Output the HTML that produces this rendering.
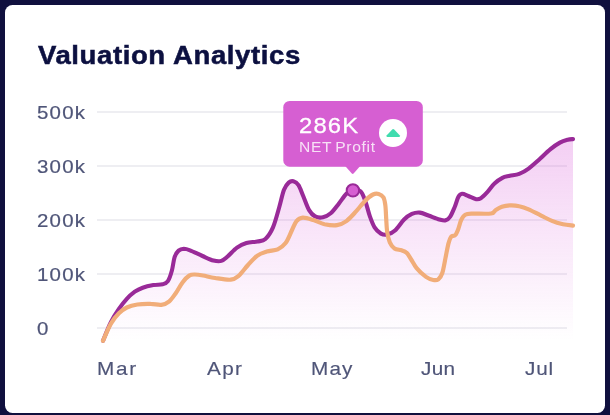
<!DOCTYPE html>
<html><head><meta charset="utf-8">
<style>
html,body{margin:0;padding:0;}
body{width:610px;height:415px;background:#10103e;overflow:hidden;position:relative;font-family:"Liberation Sans",sans-serif;}
.card{position:absolute;left:5px;top:5px;width:600px;height:407.5px;background:#fff;border-radius:7.5px;}
.title{position:absolute;left:37.7px;top:40px;font-size:25.5px;font-weight:bold;color:#0c1040;white-space:nowrap;line-height:30px;letter-spacing:0.55px;transform:scaleX(1.08);transform-origin:0 0;-webkit-text-stroke:0.5px #0c1040;will-change:transform;}
.yl{position:absolute;left:37.4px;font-size:18.6px;color:#4f5578;line-height:20px;letter-spacing:1.1px;white-space:nowrap;transform:scaleX(1.1);transform-origin:0 0;will-change:transform;-webkit-text-stroke:0.2px #4f5578;}
.xl{position:absolute;top:358.85px;font-size:18.5px;color:#4f5578;line-height:20px;letter-spacing:1.2px;white-space:nowrap;transform:scaleX(1.12);transform-origin:0 0;will-change:transform;-webkit-text-stroke:0.15px #4f5578;}
svg{position:absolute;left:0;top:0;}
.tt1{position:absolute;left:299.2px;top:113.6px;font-size:22px;color:#fff;line-height:24px;letter-spacing:1.1px;white-space:nowrap;transform:scaleX(1.08);transform-origin:0 0;will-change:transform;-webkit-text-stroke:0.3px #fff;}
.tt2{position:absolute;left:298.7px;top:138.8px;font-size:15px;color:#f7e0f6;line-height:16px;letter-spacing:0.65px;word-spacing:-1.6px;white-space:nowrap;transform:scaleX(1.04);transform-origin:0 0;will-change:transform;}
</style></head><body>
<div class="card"></div>
<div class="title">Valuation Analytics</div>
<svg width="610" height="415" viewBox="0 0 610 415">
<defs>
<linearGradient id="g" x1="0" y1="139" x2="0" y2="340" gradientUnits="userSpaceOnUse">
<stop offset="0" stop-color="#d95fd9" stop-opacity="0.30"/>
<stop offset="1" stop-color="#d95fd9" stop-opacity="0"/>
</linearGradient>
</defs>
<g stroke="#eeeef2" stroke-width="1.8">
<line x1="97" y1="112" x2="567" y2="112"/>
<line x1="97" y1="166" x2="567" y2="166"/>
<line x1="97" y1="220" x2="567" y2="220"/>
<line x1="97" y1="274" x2="567" y2="274"/>
<line x1="97" y1="328" x2="567" y2="328"/>
</g>
<path d="M103.0,340.8C104.3,337.7 108.2,327.5 110.9,322.2C113.6,316.9 116.2,312.9 118.9,309.0C121.6,305.1 124.1,301.8 126.8,298.9C129.4,296.0 132.2,293.6 134.8,291.7C137.5,289.8 139.6,288.8 142.7,287.7C145.8,286.6 150.1,285.7 153.4,285.1C156.7,284.5 160.2,285.0 162.6,284.3C165.0,283.6 166.3,283.4 167.9,281.1C169.5,278.8 170.8,274.5 171.9,270.5C173.0,266.5 173.5,260.5 174.6,257.2C175.7,253.9 177.0,252.0 178.6,250.6C180.2,249.2 182.0,248.9 183.9,248.8C185.8,248.8 186.9,249.1 190.0,250.3C193.1,251.5 198.6,254.3 202.5,256.0C206.4,257.7 210.4,259.7 213.5,260.5C216.6,261.3 219.0,261.6 221.3,260.9C223.7,260.2 225.0,258.7 227.6,256.5C230.2,254.3 233.9,249.9 237.0,247.7C240.1,245.4 243.0,244.0 246.4,243.0C249.8,242.0 254.2,242.2 257.4,241.5C260.6,240.8 262.8,241.3 265.4,239.0C268.0,236.7 270.7,232.7 273.0,227.4C275.3,222.1 277.5,213.3 279.3,207.0C281.1,200.7 282.4,193.9 284.0,189.8C285.6,185.7 287.1,184.0 288.7,182.6C290.3,181.2 291.8,180.9 293.4,181.3C295.0,181.7 296.9,182.7 298.5,185.1C300.1,187.5 301.4,191.8 303.2,196.0C305.0,200.2 307.1,206.7 309.1,210.1C311.1,213.5 312.8,215.2 315.1,216.4C317.4,217.6 320.3,217.8 322.9,217.3C325.5,216.8 328.1,215.5 330.7,213.3C333.3,211.1 336.0,207.2 338.6,203.9C341.2,200.7 344.0,196.2 346.4,193.8C348.8,191.5 350.3,190.2 352.7,189.8C355.1,189.4 358.4,189.5 360.5,191.3C362.6,193.1 363.6,196.5 365.2,200.7C366.8,204.9 368.3,211.9 369.9,216.4C371.5,220.9 372.8,224.5 374.6,227.4C376.4,230.3 378.8,232.4 380.9,233.6C383.0,234.8 384.8,235.1 387.1,234.6C389.5,234.1 392.2,233.0 395.0,230.5C397.8,228.0 401.3,222.3 404.1,219.5C406.9,216.7 409.3,215.1 411.9,213.9C414.5,212.8 416.9,212.3 419.8,212.6C422.7,212.9 425.9,214.7 429.2,215.8C432.5,217.0 436.7,218.8 439.4,219.5C442.1,220.2 443.8,220.8 445.6,220.3C447.4,219.8 448.7,218.8 450.2,216.6C451.7,214.4 453.3,210.3 454.7,207.0C456.1,203.7 457.1,199.2 458.3,197.0C459.5,194.8 460.4,194.0 462.1,193.8C463.8,193.6 466.0,195.1 468.3,196.0C470.6,196.9 474.1,198.8 476.2,199.2C478.3,199.6 479.1,199.3 480.9,198.2C482.7,197.1 484.8,194.8 487.1,192.4C489.4,190.0 491.9,185.9 494.5,183.5C497.1,181.1 499.8,179.1 502.4,177.8C504.9,176.5 507.0,176.5 509.8,175.8C512.6,175.2 516.1,175.1 519.2,173.9C522.3,172.7 525.2,171.1 528.6,168.6C532.0,166.1 535.9,162.4 539.5,159.2C543.1,155.9 547.1,151.9 550.5,149.1C553.9,146.3 557.0,144.2 559.9,142.6C562.8,141.0 565.5,140.3 567.7,139.7C569.9,139.1 572.1,139.2 573.0,139.1L573,342 L103,342 Z" fill="url(#g)"/>
<path d="M103.0,340.8C104.3,337.7 108.2,327.5 110.9,322.2C113.6,316.9 116.2,312.9 118.9,309.0C121.6,305.1 124.1,301.8 126.8,298.9C129.4,296.0 132.2,293.6 134.8,291.7C137.5,289.8 139.6,288.8 142.7,287.7C145.8,286.6 150.1,285.7 153.4,285.1C156.7,284.5 160.2,285.0 162.6,284.3C165.0,283.6 166.3,283.4 167.9,281.1C169.5,278.8 170.8,274.5 171.9,270.5C173.0,266.5 173.5,260.5 174.6,257.2C175.7,253.9 177.0,252.0 178.6,250.6C180.2,249.2 182.0,248.9 183.9,248.8C185.8,248.8 186.9,249.1 190.0,250.3C193.1,251.5 198.6,254.3 202.5,256.0C206.4,257.7 210.4,259.7 213.5,260.5C216.6,261.3 219.0,261.6 221.3,260.9C223.7,260.2 225.0,258.7 227.6,256.5C230.2,254.3 233.9,249.9 237.0,247.7C240.1,245.4 243.0,244.0 246.4,243.0C249.8,242.0 254.2,242.2 257.4,241.5C260.6,240.8 262.8,241.3 265.4,239.0C268.0,236.7 270.7,232.7 273.0,227.4C275.3,222.1 277.5,213.3 279.3,207.0C281.1,200.7 282.4,193.9 284.0,189.8C285.6,185.7 287.1,184.0 288.7,182.6C290.3,181.2 291.8,180.9 293.4,181.3C295.0,181.7 296.9,182.7 298.5,185.1C300.1,187.5 301.4,191.8 303.2,196.0C305.0,200.2 307.1,206.7 309.1,210.1C311.1,213.5 312.8,215.2 315.1,216.4C317.4,217.6 320.3,217.8 322.9,217.3C325.5,216.8 328.1,215.5 330.7,213.3C333.3,211.1 336.0,207.2 338.6,203.9C341.2,200.7 344.0,196.2 346.4,193.8C348.8,191.5 350.3,190.2 352.7,189.8C355.1,189.4 358.4,189.5 360.5,191.3C362.6,193.1 363.6,196.5 365.2,200.7C366.8,204.9 368.3,211.9 369.9,216.4C371.5,220.9 372.8,224.5 374.6,227.4C376.4,230.3 378.8,232.4 380.9,233.6C383.0,234.8 384.8,235.1 387.1,234.6C389.5,234.1 392.2,233.0 395.0,230.5C397.8,228.0 401.3,222.3 404.1,219.5C406.9,216.7 409.3,215.1 411.9,213.9C414.5,212.8 416.9,212.3 419.8,212.6C422.7,212.9 425.9,214.7 429.2,215.8C432.5,217.0 436.7,218.8 439.4,219.5C442.1,220.2 443.8,220.8 445.6,220.3C447.4,219.8 448.7,218.8 450.2,216.6C451.7,214.4 453.3,210.3 454.7,207.0C456.1,203.7 457.1,199.2 458.3,197.0C459.5,194.8 460.4,194.0 462.1,193.8C463.8,193.6 466.0,195.1 468.3,196.0C470.6,196.9 474.1,198.8 476.2,199.2C478.3,199.6 479.1,199.3 480.9,198.2C482.7,197.1 484.8,194.8 487.1,192.4C489.4,190.0 491.9,185.9 494.5,183.5C497.1,181.1 499.8,179.1 502.4,177.8C504.9,176.5 507.0,176.5 509.8,175.8C512.6,175.2 516.1,175.1 519.2,173.9C522.3,172.7 525.2,171.1 528.6,168.6C532.0,166.1 535.9,162.4 539.5,159.2C543.1,155.9 547.1,151.9 550.5,149.1C553.9,146.3 557.0,144.2 559.9,142.6C562.8,141.0 565.5,140.3 567.7,139.7C569.9,139.1 572.1,139.2 573.0,139.1" fill="none" stroke="#992a98" stroke-width="4.1" stroke-linecap="round" stroke-linejoin="round"/>
<path d="M103.0,340.8C104.3,337.9 108.2,328.2 110.9,323.6C113.6,319.0 116.2,316.0 118.9,313.3C121.6,310.6 123.7,309.0 126.8,307.5C129.9,306.0 133.4,305.1 137.4,304.5C141.4,303.9 146.7,303.8 150.7,303.9C154.7,303.9 158.2,305.2 161.3,304.8C164.4,304.4 166.9,303.3 169.3,301.3C171.7,299.3 173.7,296.1 175.9,293.0C178.1,289.9 180.3,285.3 182.5,282.4C184.7,279.5 187.1,276.9 189.2,275.6C191.3,274.3 192.7,274.5 195.0,274.5C197.3,274.5 199.7,274.9 203.0,275.5C206.3,276.1 210.5,277.3 215.1,278.0C219.7,278.7 226.8,280.1 230.7,279.7C234.6,279.3 235.7,278.3 238.6,275.9C241.5,273.4 244.9,268.4 248.0,265.0C251.1,261.6 254.3,257.9 257.4,255.6C260.5,253.3 263.4,252.6 266.8,251.5C270.2,250.4 274.6,250.7 277.7,249.3C280.8,247.9 283.2,246.1 285.6,243.0C288.0,239.9 290.0,234.2 291.8,230.5C293.6,226.8 294.7,223.2 296.5,221.1C298.3,219.0 300.0,217.9 302.8,217.7C305.6,217.5 309.9,219.0 313.5,220.1C317.1,221.2 320.6,223.3 324.5,224.2C328.4,225.0 333.4,225.7 337.0,225.2C340.6,224.7 343.3,223.3 346.4,221.1C349.5,218.8 352.7,215.1 355.8,211.7C358.9,208.3 362.3,203.6 365.2,200.7C368.1,197.8 370.8,195.6 373.0,194.5C375.2,193.4 376.9,193.4 378.6,193.9C380.3,194.4 382.3,195.5 383.4,197.3C384.5,199.2 384.8,201.5 385.3,205.0C385.8,208.5 385.9,214.0 386.2,218.5C386.5,223.0 386.6,228.0 387.2,232.0C387.8,236.0 388.6,239.6 389.8,242.3C391.0,245.0 392.6,247.1 394.5,248.4C396.4,249.7 399.5,249.6 401.5,250.3C403.5,251.0 404.9,251.2 406.5,252.7C408.1,254.1 409.2,256.4 410.9,259.0C412.6,261.6 414.1,265.1 416.6,268.1C419.1,271.1 423.2,274.9 426.0,276.9C428.8,278.9 431.2,279.6 433.3,280.0C435.4,280.4 436.8,280.5 438.3,279.3C439.8,278.1 441.1,276.6 442.3,273.0C443.5,269.4 444.6,262.3 445.6,257.4C446.6,252.5 447.6,246.8 448.5,243.4C449.4,240.0 450.0,238.2 451.1,236.8C452.2,235.4 454.0,236.5 455.2,235.2C456.4,233.9 457.3,231.5 458.3,228.9C459.3,226.3 460.2,221.8 461.4,219.5C462.5,217.2 463.5,215.8 465.2,214.8C466.9,213.8 467.2,213.8 471.5,213.6C475.8,213.4 487.0,214.1 491.0,213.5C495.0,212.9 493.9,211.1 495.7,210.0C497.5,208.9 499.5,207.6 501.9,206.8C504.2,206.0 506.9,205.5 509.8,205.4C512.7,205.3 516.1,205.5 519.2,206.2C522.3,206.8 525.0,207.7 528.6,209.3C532.2,210.9 537.2,213.7 541.1,215.6C545.0,217.5 548.4,219.4 552.0,220.9C555.6,222.4 559.5,223.5 563.0,224.3C566.5,225.1 571.3,225.4 573.0,225.6" fill="none" stroke="#f1ad79" stroke-width="4.2" stroke-linecap="round" stroke-linejoin="round"/>
<circle cx="352.9" cy="190.4" r="6.2" fill="#d65fd2" stroke="#992a98" stroke-width="2"/>
<rect x="283.3" y="101" width="139.5" height="65.7" rx="6.3" fill="#d65fd2"/>
<path d="M345.2,166 L360.2,166 L353.6,173.6 Q352.7,174.5 351.8,173.6 Z" fill="#d65fd2"/>
<circle cx="393" cy="133" r="14" fill="#fff"/>
<path d="M387.3,137 L399.1,137 Q400.6,136.6 399.6,135.2 L394.2,129.4 Q393.2,128.5 392.2,129.4 L386.8,135.2 Q385.8,136.6 387.3,137 Z" fill="#40dcae"/>
</svg>
<div class="yl" style="top:102.90px">500k</div>
<div class="yl" style="top:156.90px">300k</div>
<div class="yl" style="top:210.90px">200k</div>
<div class="yl" style="top:264.90px">100k</div>
<div class="yl" style="top:318.90px">0</div>
<div class="xl" style="left:96.5px;letter-spacing:1.6px">Mar</div>
<div class="xl" style="left:207px">Apr</div>
<div class="xl" style="left:310.5px;letter-spacing:1.0px">May</div>
<div class="xl" style="left:420.5px;letter-spacing:0.3px">Jun</div>
<div class="xl" style="left:524.7px;letter-spacing:0.7px">Jul</div>
<div class="tt1">286K</div>
<div class="tt2">NET Profit</div>
</body></html>
